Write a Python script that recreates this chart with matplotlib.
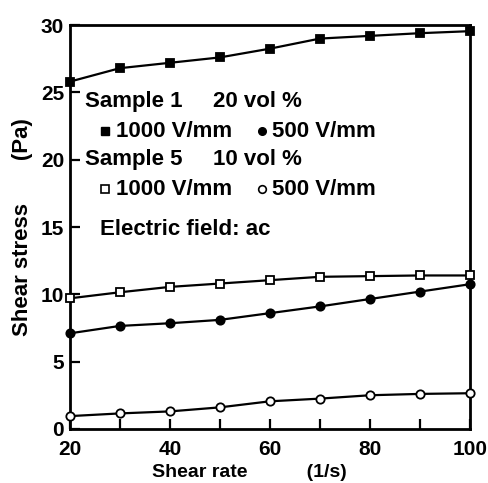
import matplotlib
matplotlib.use("Agg")
import matplotlib.pyplot as plt

plt.rcParams['font.family'] = ['Liberation Sans', 'DejaVu Sans']

shear_rate = [20, 30, 40, 50, 60, 70, 80, 90, 100]

# Sample 1, 20 vol %
s1_1000 = [25.8, 26.8, 27.2, 27.6, 28.25, 29.0, 29.2, 29.4, 29.55]
s1_500 = [7.1, 7.65, 7.85, 8.1, 8.6, 9.1, 9.65, 10.2, 10.75]
# Sample 5, 10 vol %
s5_1000 = [9.7, 10.15, 10.55, 10.8, 11.05, 11.3, 11.35, 11.4, 11.4]
s5_500 = [0.95, 1.15, 1.3, 1.6, 2.05, 2.25, 2.5, 2.6, 2.65]

fig = plt.figure(figsize=(4.88, 4.83), dpi=100)
ax = fig.add_axes([0.143, 0.112, 0.82, 0.836])

style = dict(color='black', lw=1.6, ms=6, mew=1.3, clip_on=False, zorder=3)
ax.plot(shear_rate, s1_1000, marker='s', mfc='black', **style)
ax.plot(shear_rate, s1_500, marker='o', mfc='black', **style)
ax.plot(shear_rate, s5_1000, marker='s', mfc='white', **style)
ax.plot(shear_rate, s5_500, marker='o', mfc='white', **style)

ax.set_xlim(20, 100)
ax.set_ylim(0, 30)
ax.set_xticks([20, 40, 60, 80, 100])
ax.set_xticks([30, 50, 70, 90], minor=True)
ax.set_yticks([0, 5, 10, 15, 20, 25, 30])
ax.tick_params(which='both', direction='in', width=1.6, labelsize=15)
ax.tick_params(which='both', length=7)
ax.tick_params(axis='x', pad=8)
ax.tick_params(axis='y', pad=4)
for lab in ax.get_xticklabels() + ax.get_yticklabels():
    lab.set_fontweight('bold')
for s in ax.spines.values():
    s.set_linewidth(2)

ax.set_xlabel('Shear rate           (1/s)', fontsize=14, fontweight='bold')
ax.xaxis.set_label_coords(0.45, -0.088)
ax.set_ylabel('Shear stress       (Pa)', fontsize=16, fontweight='bold')
ax.yaxis.set_label_coords(-0.093, 0.5)

fs = 16
tk = dict(fontsize=fs, va='center', fontweight='bold')
ax.text(23, 24.3, 'Sample 1', **tk)
ax.text(48.6, 24.3, '20 vol %', **tk)
ax.plot([27], [22.1], marker='s', color='black', ms=5.5)
ax.text(29.3, 22.1, '1000 V/mm', **tk)
ax.plot([58.5], [22.1], marker='o', color='black', ms=5.5)
ax.text(60.5, 22.1, '500 V/mm', **tk)
ax.text(23, 20.0, 'Sample 5', **tk)
ax.text(48.6, 20.0, '10 vol %', **tk)
ax.plot([27], [17.8], marker='s', color='black', mfc='white', ms=5.5, mew=1.2)
ax.text(29.3, 17.8, '1000 V/mm', **tk)
ax.plot([58.5], [17.8], marker='o', color='black', mfc='white', ms=5.5, mew=1.2)
ax.text(60.5, 17.8, '500 V/mm', **tk)
ax.text(26, 14.8, 'Electric field: ac', **tk)

fig.savefig('out.png', dpi=100)
